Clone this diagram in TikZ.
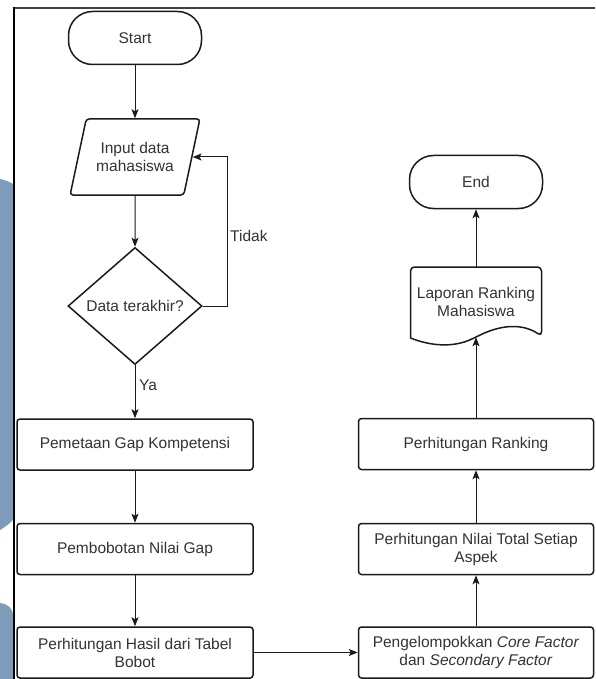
\documentclass[tikz,border=0pt]{standalone}
\usepackage{fontspec}
\setmainfont{Liberation Sans}
\usetikzlibrary{shapes.geometric,arrows.meta}
\definecolor{txt}{HTML}{333333}
\definecolor{edgec}{HTML}{1A1A1A}
\definecolor{slate}{HTML}{7F9BBA}
\newcommand{\diafont}{\fontsize{15.5}{18}\selectfont}
\begin{document}
\begin{tikzpicture}[x=1pt,y=-1pt,
  base/.style={draw=edgec, line width=1.5pt, text=txt, font=\diafont, align=center, inner sep=2pt},
  stepbox/.style={base, rectangle, rounded corners=3pt, minimum width=236pt, minimum height=51pt},
  term/.style={base, rectangle, rounded corners=24pt, minimum width=133pt, minimum height=53pt},
  io/.style={base, trapezium, trapezium left angle=68, trapezium right angle=112, trapezium stretches=true, rounded corners=3pt, minimum width=130pt, minimum height=76pt},
  decision/.style={base, diamond, aspect=1.15, minimum width=134pt, minimum height=117pt, inner sep=0pt},
  lbl/.style={text=txt, font=\diafont, align=center, inner sep=1pt},
  arrow/.style={draw=edgec, line width=1pt, -{Stealth[length=9pt,width=7pt,inset=2pt]}},
  frame/.style={line width=2pt}
]
\useasboundingbox (0,0) rectangle (595,679);
\fill[white] (0,0) rectangle (595,679);
% background strip at the left
\fill[slate] (0,179) .. controls (5,180) and (10,182) .. (13,184) -- (13,520) .. controls (9,524) and (5,527) .. (0,530) -- cycle;
\fill[slate] (0,603) .. controls (8,604) and (13,608) .. (13,616) -- (13,679) -- (0,679) -- cycle;
% frame
\draw[frame, draw=black!75] (13,8) -- (595,8);
\draw[frame, draw=black] (13.5,7) -- (13.5,679);

% left column
\node[term] (start) at (135,38) {Start};
\node[io] (inp) at (135,157) {Input data\\mahasiswa};
\node[decision] (dia) at (135,306) {Data terakhir?};
\node[stepbox] (p1) at (135,444.5) {Pemetaan Gap Kompetensi};
\node[stepbox] (p2) at (135,549) {Pembobotan Nilai Gap};
\node[stepbox] (p3) at (135,652.5) {Perhitungan Hasil dari Tabel\\Bobot};

% right column
\node[stepbox, minimum width=235pt] (q1) at (476,652.5) {Pengelompokkan \textit{Core Factor}\\dan \textit{Secondary Factor}};
\node[stepbox, minimum width=235pt] (q2) at (476,549) {Perhitungan Nilai Total Setiap\\Aspek};
\node[stepbox, minimum width=235pt] (q3) at (476,444) {Perhitungan Ranking};
\node[lbl, minimum width=131pt, minimum height=70pt, inner sep=0pt] (doc) at (476,302) {Laporan Ranking\\Mahasiswa};
\draw[draw=edgec, line width=1.5pt, rounded corners=4pt]
  (410.5,338) -- (410.5,267) -- (541.5,267) -- (541.5,336)
  .. controls (520.5,322) and (498.5,326) .. (476,337)
  .. controls (453.5,348) and (430.5,346) .. (410.5,338);
\node[term] (end) at (476,182) {End};

% labels
\node[lbl, anchor=west] (tidak) at (229,236) {Tidak};
\node[lbl] (ya) at (148,385) {Ya};

% connectors
\draw[arrow] (start) -- (inp);
\draw[arrow] (inp) -- (dia);
\draw[arrow] (dia.east) -- ++(25,0) coordinate (loopc) |- (inp);
\draw[arrow] (dia) -- (p1);
\draw[arrow] (p1) -- (p2);
\draw[arrow] (p2) -- (p3);
\draw[arrow] (p3) -- (q1);
\draw[arrow] (q1) -- (q2);
\draw[arrow] (q2) -- (q3);
\draw[arrow] (q3.north) -- (doc.south);
\draw[arrow] (doc.north) -- (end);
\end{tikzpicture}
\end{document}
